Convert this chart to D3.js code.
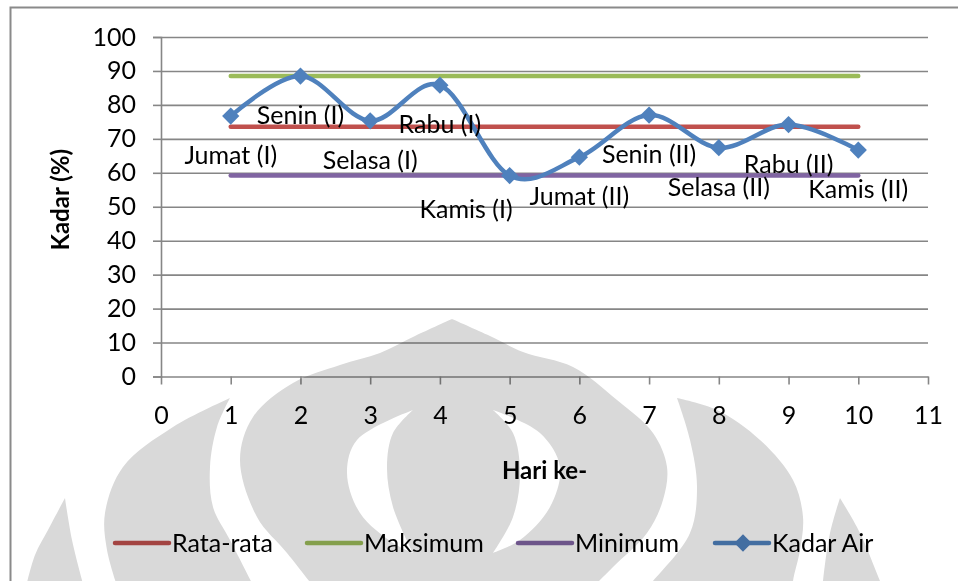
<!DOCTYPE html>
<html>
<head>
<meta charset="utf-8">
<script src="https://cdn.jsdelivr.net/npm/d3@7"></script>
<style>
  html, body { margin: 0; padding: 0; background: #fff; }
  svg { display: block; }
  text { font-family: Lato, "Open Sans", sans-serif; fill: #000; }
</style>
</head>
<body>
<svg id="chart" width="958" height="581"></svg>
<script>
// Moisture content per sampling day
const days = [1, 2, 3, 4, 5, 6, 7, 8, 9, 10];
const dayNames = ["Jumat (I)", "Senin (I)", "Selasa (I)", "Rabu (I)", "Kamis (I)",
                  "Jumat (II)", "Senin (II)", "Selasa (II)", "Rabu (II)", "Kamis (II)"];
const kadarAir = [76.7, 88.5, 75.3, 85.8, 59.2, 64.6, 77.0, 67.4, 74.2, 66.7];
const rataRata = d3.mean(kadarAir);
const maksimum = d3.max(kadarAir);
const minimum = d3.min(kadarAir);
const xTicks = d3.range(0, 12);
const yTicks = d3.range(0, 101, 10);
const seriesNames = ["Rata-rata", "Maksimum", "Minimum", "Kadar Air"];
const seriesColors = ["#C0504D", "#9BBB59", "#8064A2", "#4F81BD"];

const svg = d3.select("#chart");
const plot = { left: 161, right: 928, top: 37, bottom: 376.5 };
const fontSize = "25px";

const x = d3.scaleLinear().domain([0, 11]).range([plot.left, plot.right]);
const y = d3.scaleLinear().domain([0, 100]).range([plot.bottom, plot.top]);

// outer chart frame
svg.append("rect")
  .attr("x", 10.5).attr("y", 7.5).attr("width", 1000).attr("height", 640)
  .attr("fill", "none").attr("stroke", "#8a8a8a").attr("stroke-width", 2);

const gridColor = "#868686";

// horizontal gridlines + y axis
const yAxis = svg.append("g")
  .attr("transform", `translate(${plot.left},0)`)
  .call(d3.axisLeft(y).tickValues(yTicks).tickSize(8).tickPadding(17));
yAxis.select(".domain").attr("stroke", gridColor).attr("stroke-width", 1.6);
yAxis.selectAll(".tick line").attr("stroke", gridColor).attr("stroke-width", 1.6);
yAxis.selectAll(".tick text").style("font-size", fontSize).attr("fill", "#000");
yAxis.selectAll(".tick").append("line")
  .attr("x1", 0).attr("x2", plot.right - plot.left)
  .attr("stroke", gridColor).attr("stroke-width", 1.6)
  .filter(d => d === 0).remove();

// x axis
const xAxis = svg.append("g")
  .attr("transform", `translate(0,${plot.bottom})`)
  .call(d3.axisBottom(x).tickValues(xTicks).tickSize(8).tickSizeOuter(0).tickPadding(22));
xAxis.select(".domain").attr("stroke", gridColor).attr("stroke-width", 1.6);
xAxis.selectAll(".tick line").attr("stroke", gridColor).attr("stroke-width", 1.6);
xAxis.selectAll(".tick text").style("font-size", fontSize).attr("fill", "#000");

// axis titles
svg.append("text")
  .attr("transform", `translate(69,${(plot.top + plot.bottom) / 2 - 7}) rotate(-90)`)
  .attr("text-anchor", "middle")
  .style("font-size", "24px").style("font-weight", "bold")
  .text("Kadar (%)");
svg.append("text")
  .attr("x", (plot.left + plot.right) / 2).attr("y", 479)
  .attr("text-anchor", "middle")
  .style("font-size", "24px").style("font-weight", "bold")
  .text("Hari ke-");

// reference lines: average, maximum, minimum
const refValues = [rataRata, maksimum, minimum];
refValues.forEach((v, i) => {
  svg.append("line")
    .attr("x1", x(days[0])).attr("x2", x(days[days.length - 1]))
    .attr("y1", y(v)).attr("y2", y(v))
    .attr("stroke", seriesColors[i]).attr("stroke-width", 4.5)
    .attr("stroke-linecap", "round");
});

// smoothed moisture line
const line = d3.line()
  .x((d, i) => x(days[i]))
  .y(d => y(d))
  .curve(d3.curveCardinal.tension(0));
svg.append("path")
  .datum(kadarAir)
  .attr("d", line)
  .attr("fill", "none")
  .attr("stroke", seriesColors[3])
  .attr("stroke-width", 4.5)
  .attr("stroke-linejoin", "round");

const diamond = d3.symbol().type(d3.symbolDiamond2).size(190);
svg.append("g").selectAll("path")
  .data(kadarAir)
  .join("path")
  .attr("transform", (d, i) => `translate(${x(days[i])},${y(d)})`)
  .attr("d", diamond)
  .attr("fill", seriesColors[3]);

// day labels under each point; the lowest one is tucked to the left
// of its point so it clears the neighbouring label
const lowest = kadarAir.indexOf(minimum);
svg.append("g").selectAll("text")
  .data(kadarAir)
  .join("text")
  .attr("x", (d, i) => x(days[i]) + (i === lowest ? 3 : 0))
  .attr("y", (d, i) => y(d) + (i === lowest ? 42 : 48))
  .attr("text-anchor", (d, i) => i === lowest ? "end" : "middle")
  .style("font-size", fontSize)
  .text((d, i) => dayNames[i]);

// legend
const legendY = 543;
const legendStarts = [115, 307, 518, 715];
seriesNames.forEach((name, i) => {
  const g = svg.append("g").attr("transform", `translate(${legendStarts[i]},${legendY})`);
  g.append("line")
    .attr("x1", 0).attr("x2", 54).attr("y1", 0).attr("y2", 0)
    .attr("stroke", seriesColors[i]).attr("stroke-width", 4.5)
    .attr("stroke-linecap", "round");
  if (i === 3) {
    g.append("path").attr("transform", "translate(28,0)")
      .attr("d", diamond).attr("fill", seriesColors[i]);
  }
  g.append("text")
    .attr("x", 57).attr("y", 9)
    .style("font-size", fontSize)
    .text(name);
});

// faint emblem watermark laid over the page (multiplied)
function edge(points) {
  return d3.line().curve(d3.curveCatmullRom.alpha(0.5))(points);
}
function shape(a, b) {
  // a and b start at the same tip; the outline runs down a and back up b
  const p1 = edge(a);
  const p2 = edge(b.slice().reverse());
  return p1 + "L" + p2.slice(1) + "Z";
}
const emblemParts = [
  shape([[65,498],[48,530],[35,555],[24,595]], [[65,498],[72,540],[86,595]]),
  shape([[230,398],[173,427],[123,467],[105,513],[107,550],[120,595]],
        [[230,398],[217,427],[210,467],[213,507],[230,540],[258,595]]),
  shape([[452,319],[415,336],[380,353],[340,365],[293,383],[253,417],[240,460],[257,517],[287,553],[320,595]],
        [[452,319],[490,336],[523,352],[573,367],[617,400],[653,433],[667,467],[663,500],[647,533],[613,567],[585,595]]),
  shape([[413,410],[357,440],[347,473],[360,513],[393,543],[413,553]],
        [[413,410],[393,433],[387,467],[393,507],[413,553]]),
  shape([[493,410],[540,433],[560,467],[550,507],[520,540],[493,553]],
        [[493,410],[513,433],[520,473],[513,517],[493,553]]),
  shape([[677,398],[690,440],[697,487],[690,533],[653,581],[640,595]],
        [[677,398],[717,410],[760,440],[793,480],[803,517],[800,550],[793,581],[792,595]]),
  shape([[840,498],[830,533],[823,581],[822,595]], [[840,498],[860,533],[880,581],[886,595]])
];
svg.append("path")
  .attr("d", emblemParts.join(""))
  .attr("fill", "#d9d9d9")
  .attr("fill-rule", "evenodd")
  .style("mix-blend-mode", "multiply");
</script>
</body>
</html>
